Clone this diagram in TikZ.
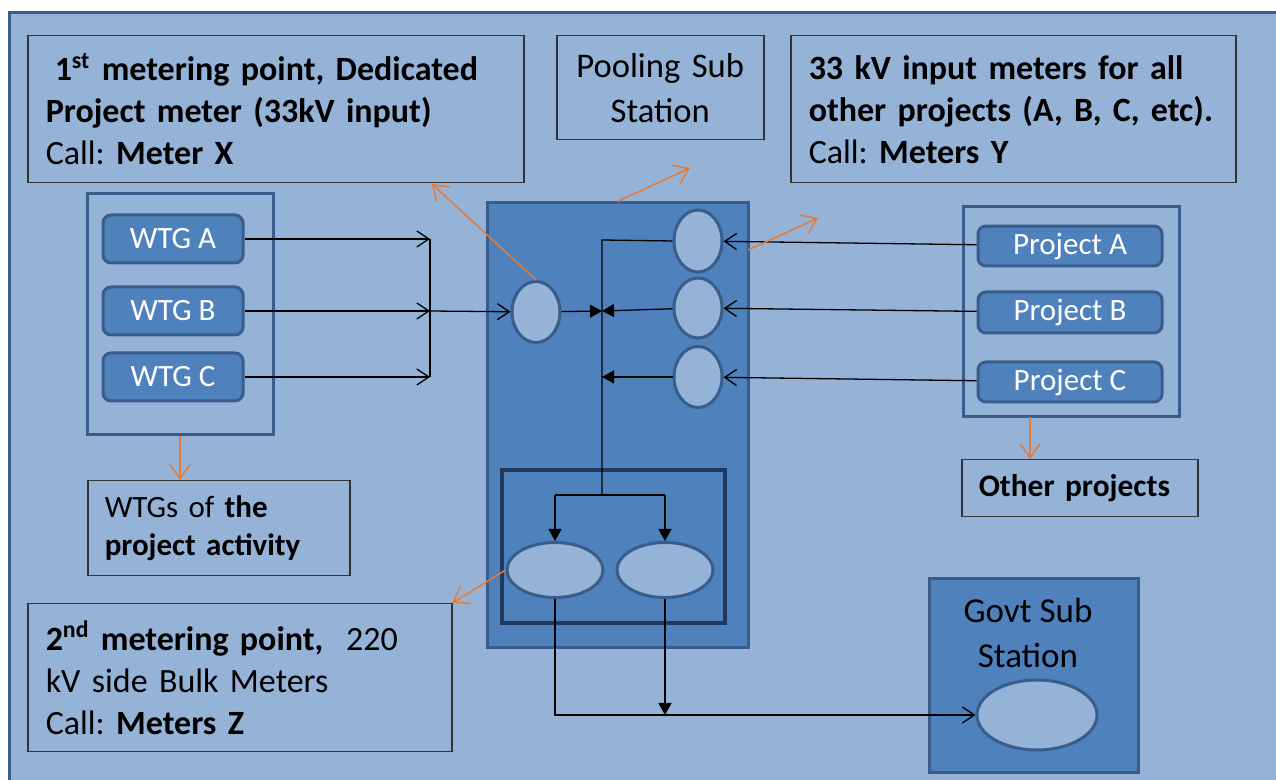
\documentclass[tikz,border=0pt]{standalone}
\usepackage{fontspec}
\setmainfont{Carlito}
\usetikzlibrary{positioning, arrows.meta, shapes.geometric}
\definecolor{bgblue}{RGB}{149,179,215}
\definecolor{midblue}{RGB}{79,129,189}
\definecolor{edgeblue}{RGB}{56,93,138}
\definecolor{navyedge}{RGB}{31,56,94}
\definecolor{warnorange}{RGB}{230,122,52}
\frenchspacing

\begin{document}
\begin{tikzpicture}[x=0.5pt, y=-0.5pt, >={Straight Barb[length=6pt,width=8pt]},
	txtbox/.style={draw=black!80, line width=0.75pt, anchor=north west, align=left, inner xsep=9pt, font=\fontsize{17}{21}\selectfont},
	unitbox/.style={draw=edgeblue, fill=midblue, line width=1.5pt, rounded corners=4pt, text=white, font=\fontsize{15.5}{18}\selectfont},
	grpbox/.style={draw=edgeblue, line width=1.5pt},
	meter/.style={ellipse, draw=edgeblue, fill=bgblue, line width=1.5pt, inner sep=0pt},
	warn/.style={draw=warnorange, line width=0.75pt, -{Straight Barb[length=7pt,width=10pt]}},
	wire/.style={line width=0.65pt},
	tri/.style={-{Triangle[length=6pt,width=6.5pt]}}]
		\useasboundingbox (0,0) rectangle (1276,780);
		\fill[white] (0,0) rectangle (1276,780);
		\draw[fill=bgblue, draw=edgeblue, line width=1.5pt] (9,13) rectangle (1290,795);

		\node[txtbox, text width=230pt, minimum height=73.5pt] (xbox) at (27,35)
			{\hspace{4.5pt}\textbf{1\textsuperscript{st} metering point, Dedicated}\\ \textbf{Project meter (33kV input)}\\ Call: \textbf{Meter X}};
		\node[txtbox, align=center, inner xsep=0pt, text width=103.5pt, minimum height=52pt, font=\fontsize{17.3}{22.5}\selectfont] (poolnote) at (556,35)
			{Pooling Sub\\ Station};
		\node[txtbox, text width=204.5pt, minimum height=73.5pt] (ybox) at (790,35)
			{\textbf{33 kV input meters for all}\\ \textbf{other projects (A, B, C, etc).}\\ Call: \textbf{Meters Y}};
		\node[txtbox, text width=114pt, inner xsep=8.5pt, minimum height=47.5pt, font=\fontsize{15.5}{19}\selectfont] (wtgnote) at (87,480)
			{WTGs of \textbf{the}\\ \textbf{project activity}};
		\node[txtbox, text width=101pt, inner xsep=8.5pt, minimum height=28.5pt, font=\fontsize{15.7}{18}\selectfont] (other) at (961,459)
			{\textbf{Other projects}};
		\node[txtbox, text width=194pt, minimum height=74pt] (zbox) at (27,603)
			{\textbf{2\textsuperscript{nd} metering point,}~~220\\ kV side Bulk Meters\\ Call: \textbf{Meters Z}};

		\node[grpbox, minimum width=93pt, minimum height=120.5pt] (wtggrp) at (180,314.5) {};
		\node[unitbox, minimum width=70pt, minimum height=24pt] (wtga) at (173,239) {WTG A};
		\node[unitbox, minimum width=70pt, minimum height=24pt] (wtgb) at (173,311) {WTG B};
		\node[unitbox, minimum width=70pt, minimum height=24pt] (wtgc) at (173,377) {WTG C};

		\node[grpbox, minimum width=108pt, minimum height=105pt] (projgrp) at (1071,312) {};
		\node[unitbox, minimum width=92pt, minimum height=19.5pt] (proja) at (1070,246) {Project A};
		\node[unitbox, minimum width=92pt, minimum height=20.5pt] (projb) at (1070,312.5) {Project B};
		\node[unitbox, minimum width=92pt, minimum height=20pt] (projc) at (1070,382) {Project C};

		\node[draw=edgeblue, fill=midblue, line width=1.5pt, minimum width=130.5pt, minimum height=222.5pt] (pool) at (617.5,425.5) {};
		\node[draw=navyedge, fill=midblue, line width=2pt, minimum width=111.5pt, minimum height=76.5pt] (poolin) at (613.5,546.5) {};
		\node[draw=edgeblue, fill=midblue, line width=1.5pt, minimum width=104.5pt, minimum height=97pt] (gov) at (1033.5,676) {};
		\node[font=\fontsize{17.5}{22.5}\selectfont, align=center] (govlabel) at (1028,633) {Govt Sub\\ Station};

		\node[meter, minimum width=24pt, minimum height=30.5pt] (mx) at (536,312) {};
		\node[meter, minimum width=24pt, minimum height=31pt] (my1) at (698,241) {};
		\node[meter, minimum width=24pt, minimum height=30pt] (my2) at (698,308) {};
		\node[meter, minimum width=24pt, minimum height=30.5pt] (my3) at (698,377) {};
		\node[meter, minimum width=48pt, minimum height=27.5pt] (mz1) at (555,570) {};
		\node[meter, minimum width=48pt, minimum height=27.5pt] (mz2) at (665,570) {};
		\node[meter, minimum width=60pt, minimum height=35pt] (mgov) at (1037,715) {};

		\coordinate (ja) at (430,239);
		\coordinate (jb) at (430,311);
		\coordinate (jc) at (430,377);
		\coordinate (bustop) at (602,240);
		\coordinate (busmid) at (602,311);
		\coordinate (buslow) at (602,377);
		\coordinate (busbot) at (602,495);
		\coordinate (zl) at (555,495);
		\coordinate (zr) at (665,495);
		\coordinate (zlow) at (555,715);
		\coordinate (zjoin) at (665,715);

		\draw[wire, ->] (wtga) -- (ja);
		\draw[wire, ->] (wtgb) -- (jb);
		\draw[wire, ->] (wtgc) -- (jc);
		\draw[wire] (ja) -- (jc);
		\draw[wire, ->] (jb) -- (mx);
		\draw[wire, tri] (mx) -- (busmid);
		\draw[wire, tri] (my2) -- (busmid);
		\draw[wire, tri] (my3) -- (buslow);
		\draw[wire] (my1.west) -- (bustop) -- (busbot);
		\draw[wire] (zl) -- (zr);
		\draw[wire, tri] (zl) -- (mz1);
		\draw[wire, tri] (zr) -- (mz2);
		\draw[wire, ->] (proja) -- (my1);
		\draw[wire, ->] (projb) -- (my2);
		\draw[wire, ->] (projc) -- (my3);
		\draw[wire, ->] (mz1) -- (zlow) -- (mgov);
		\draw[wire, tri] (mz2) -- (zjoin);

		\coordinate (xtip) at (432,184);
		\coordinate (pooltip) at (690,168);
		\coordinate (ytail) at (748,250);
		\coordinate (ytip) at (818,218);
		\coordinate (pgo) at (1030,417);
		\draw[warn] (mx.north) -- (xtip);
		\draw[warn] (pool.north) -- (pooltip);
		\draw[warn] (ytail) -- (ytip);
		\draw[warn] (wtggrp.south) -- (wtggrp.south |- wtgnote.north);
		\draw[warn] (pgo) -- (pgo |- other.north);
		\draw[warn] (mz1.west) -- (zbox.north east);
	\end{tikzpicture}
\end{document}
